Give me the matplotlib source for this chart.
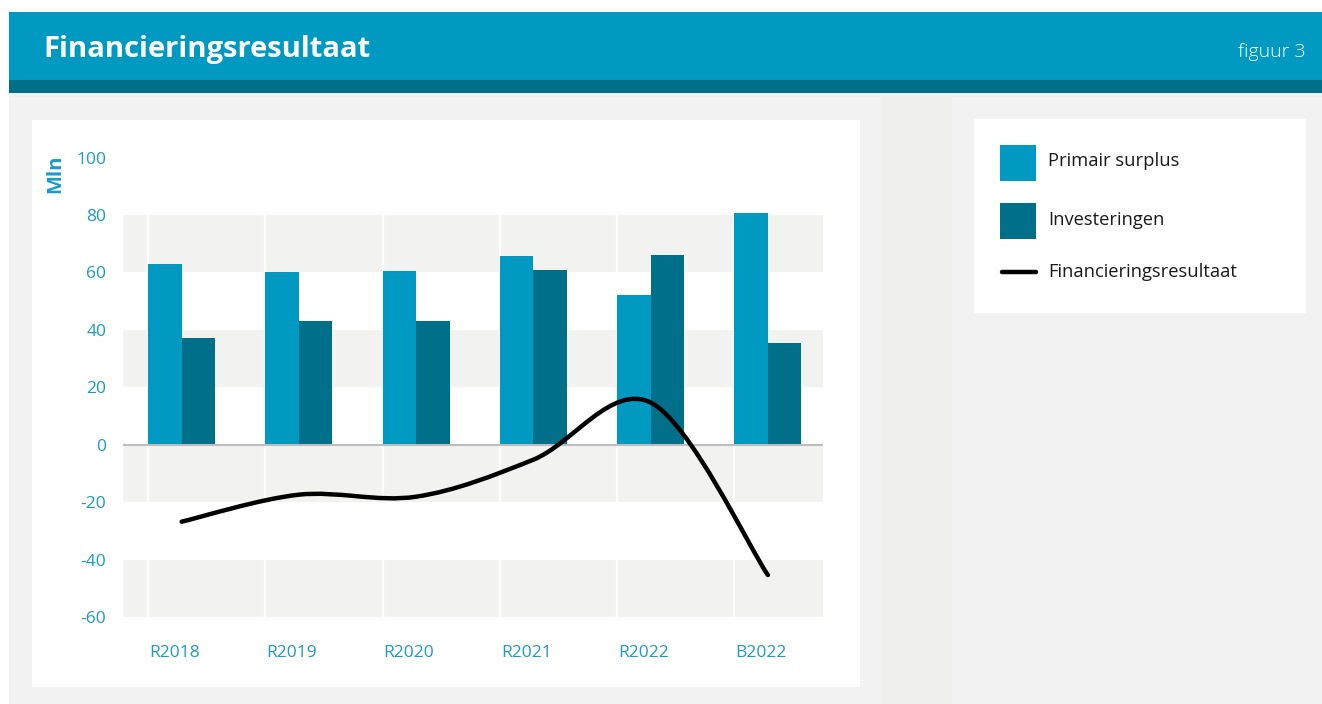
import matplotlib.pyplot as plt
import numpy as np
from matplotlib.patches import Rectangle, PathPatch
from matplotlib.path import Path

plt.rcParams['font.family'] = ['Open Sans', 'DejaVu Sans']

categories = ['R2018', 'R2019', 'R2020', 'R2021', 'R2022', 'B2022']
primair_surplus = [63.0, 60.0, 60.6, 65.6, 52.3, 80.8]
investeringen = [37.2, 43.2, 43.2, 60.9, 66.2, 35.6]
financieringsresultaat = [-26.8, -17.4, -18.1, -5.2, 14.7, -45.4]
yticks = [-60, -40, -20, 0, 20, 40, 60, 80, 100]

c_light = '#0099c2'
c_dark = '#006f8a'
c_tick = '#1a9bc8'

W, H = 1322, 704
fig = plt.figure(figsize=(W / 100, H / 100), dpi=100)
fig.patch.set_facecolor('white')


def box(x0, y0, x1, y1, color):
    # rectangle in pixel coords (origin top-left), kept behind the axes
    fig.patches.append(Rectangle((x0 / W, 1 - y1 / H), (x1 - x0) / W, (y1 - y0) / H,
                                 transform=fig.transFigure, facecolor=color,
                                 edgecolor='none', zorder=-10))


# background panels
box(9, 93, W, H, '#efefed')
box(9, 97, 882, H, '#f2f2f2')
box(952, 97, W, H, '#f2f2f2')
box(32, 120, 860, 687, 'white')
box(974, 119, 1306, 313, 'white')
# header
box(9, 12, W, 80, c_light)
box(9, 80, W, 93, c_dark)
fig.text(43 / W, 1 - 50 / H, 'Financieringsresultaat', color='white', fontsize=21,
         fontweight='bold', ha='left', va='center')
fig.text(1306 / W, 1 - 52 / H, 'figuur 3', color='white', fontsize=14,
         fontweight='light', ha='right', va='center')

# chart
ax = fig.add_axes([123 / W, 1 - 617 / H, 700 / W, (617 - 157.6) / H])
ax.set_facecolor('none')
x = np.arange(len(categories))
bw = 0.2856

for lo in (60, 20, -20, -60):
    ax.axhspan(lo, lo + 20, color='#f2f2f0', lw=0, zorder=0)
for xi in x:
    ax.axvline(xi - bw, color='white', lw=1.6, zorder=1)

ax.bar(x - bw / 2, primair_surplus, bw, color=c_light, zorder=2, label='Primair surplus')
ax.bar(x + bw / 2, investeringen, bw, color=c_dark, zorder=2, label='Investeringen')
ax.axhline(0, color='#bdbdbd', lw=1.5, zorder=3)

# smooth line through the points (Catmull-Rom as cubic Bezier)
pts = np.column_stack([x, financieringsresultaat]).astype(float)
ext = np.vstack([pts[0], pts, pts[-1]])
verts = [pts[0]]
codes = [Path.MOVETO]
for i in range(len(pts) - 1):
    p0, p1, p2, p3 = ext[i], ext[i + 1], ext[i + 2], ext[i + 3]
    verts += [p1 + (p2 - p0) / 6, p2 - (p3 - p1) / 6, p2]
    codes += [Path.CURVE4] * 3
ax.add_patch(PathPatch(Path(verts, codes), facecolor='none', edgecolor='black',
                       lw=3.2, capstyle='round', zorder=4))

ax.set_xlim(-0.5, 5.47)
ax.set_ylim(-60, 100)
ax.set_yticks(yticks)
ax.set_yticklabels([str(v) for v in yticks])
ax.set_xticks(x - 0.06)
ax.set_xticklabels(categories)
ax.tick_params(axis='y', length=0, pad=12, labelsize=12.5, labelcolor=c_tick)
ax.tick_params(axis='x', length=0, pad=20, labelsize=12.5, labelcolor=c_tick)
for s in ax.spines.values():
    s.set_visible(False)
fig.text(55 / W, 1 - 174 / H, 'Mln', rotation=90, color=c_tick, fontsize=14.5,
         fontweight='bold', ha='center', va='center')

# legend panel
lax = fig.add_axes([974 / W, 1 - 313 / H, 332 / W, 194 / H])
lax.set_xlim(0, 332)
lax.set_ylim(194, 0)
lax.axis('off')
lax.add_patch(Rectangle((26, 26), 36, 36, facecolor=c_light, edgecolor='none'))
lax.add_patch(Rectangle((26, 84), 36, 36, facecolor=c_dark, edgecolor='none'))
lax.plot([28, 62], [153, 153], color='black', lw=3.2, solid_capstyle='round')
for yy, txt in zip([42, 101, 153], ['Primair surplus', 'Investeringen', 'Financieringsresultaat']):
    lax.text(74, yy, txt, fontsize=13.2, color='#1a1a1a', ha='left', va='center')

fig.savefig('out.png', dpi=100)
